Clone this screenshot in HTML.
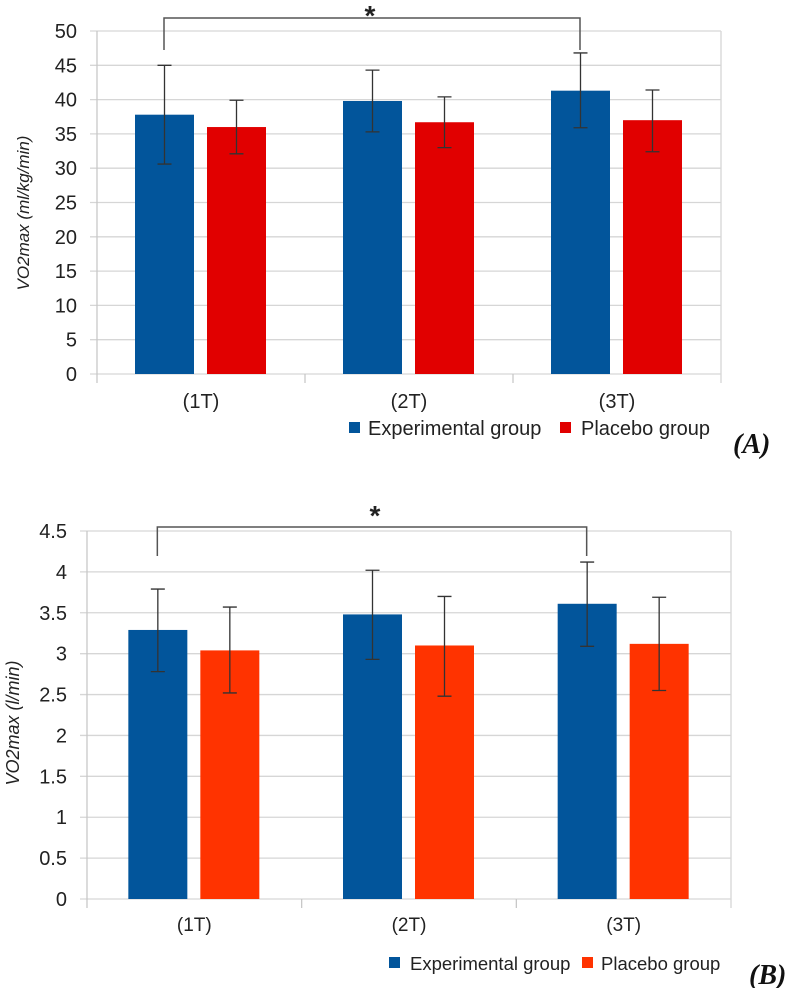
<!DOCTYPE html>
<html><head><meta charset="utf-8"><style>
html,body{margin:0;padding:0;background:#fff;width:787px;height:988px;overflow:hidden}
svg{display:block;font-family:"Liberation Sans",sans-serif}
</style></head><body>
<svg id="s" width="787" height="988"></svg>
<script>
const categories = ["(1T)","(2T)","(3T)"];
const aExp = [37.8, 39.8, 41.3];
const aExpLo = [30.6, 35.3, 35.9];
const aExpHi = [45.0, 44.3, 46.8];
const aPla = [36.0, 36.7, 37.0];
const aPlaLo = [32.1, 33.0, 32.4];
const aPlaHi = [39.9, 40.4, 41.4];
const aTicks = [0,5,10,15,20,25,30,35,40,45,50];
const bExp = [3.29, 3.48, 3.61];
const bExpLo = [2.78, 2.93, 3.09];
const bExpHi = [3.79, 4.02, 4.12];
const bPla = [3.04, 3.10, 3.12];
const bPlaLo = [2.52, 2.48, 2.55];
const bPlaHi = [3.57, 3.70, 3.69];
const bTicks = ["0","0.5","1","1.5","2","2.5","3","3.5","4","4.5"];

const svg = document.getElementById('s');
const NS = 'http://www.w3.org/2000/svg';
function el(tag, attrs, parent){
  const e = document.createElementNS(NS, tag);
  for (const k in attrs) e.setAttribute(k, attrs[k]);
  (parent||svg).appendChild(e);
  return e;
}
function chart(cfg){
  const g = el('g', {});
  
  
  const y = v => cfg.y0 - (v - 0) / cfg.max * (cfg.y0 - cfg.yTop);
  const cw = (cfg.right - cfg.left) / categories.length;
  const cx = i => cfg.left + cw * (i + 0.5);
  cfg.ticks.forEach(t => {
    const v = parseFloat(t);
    const ln = el('line', {x1: cfg.left - 7, x2: cfg.right, y1: y(v), y2: y(v), stroke: '#d6d6d6', 'stroke-width': 1.3}, g);
    
    
    const tx = el('text', {x: cfg.tickX, y: y(v) + 7, 'text-anchor': 'end', 'font-size': 20, fill: '#222'}, g);
    tx.textContent = t;
    
    
  });
  el('line', {x1: cfg.left, x2: cfg.left, y1: cfg.yTop, y2: cfg.y0 + 9, stroke: '#c8c8c8', 'stroke-width': 1.3}, g);
  el('line', {x1: cfg.right, x2: cfg.right, y1: cfg.yTop, y2: cfg.y0 + 9, stroke: '#d6d6d6', 'stroke-width': 1.3}, g);
  for (let i = 1; i < categories.length; i++) {
    el('line', {x1: cfg.left + cw * i, x2: cfg.left + cw * i, y1: cfg.y0, y2: cfg.y0 + 9, stroke: '#c8c8c8', 'stroke-width': 1.3}, g);
  }
  categories.forEach((c, i) => {
    const t = el('text', {x: cx(i), y: cfg.xLabY, 'text-anchor': 'middle', 'font-size': cfg.xFont, fill: '#222'}, g);
    t.textContent = c;
    
    
    const series = [[cfg.exp, cfg.expLo, cfg.expHi, '#02559b', -66, 'bar-experimental'], [cfg.pla, cfg.plaLo, cfg.plaHi, cfg.redCol, 6, 'bar-placebo']];
    series.forEach(s => {
      const x0 = cx(i) + s[4];
      const r = el('rect', {x: x0, y: y(s[0][i]), width: 59, height: y(0) - y(s[0][i]), fill: s[3]}, g);
      
      
      const mx = x0 + 29.5;
      const eb = el('path', {d: `M${mx} ${y(s[2][i])}V${y(s[1][i])}M${mx-7} ${y(s[2][i])}H${mx+7}M${mx-7} ${y(s[1][i])}H${mx+7}`, stroke: '#333', 'stroke-width': 1.3, fill: 'none'}, g);
      
      
    });
  });
  const br = el('path', {d: `M${cx(0)-37} ${cfg.brBot}V${cfg.brTop}H${cx(2)-37}V${cfg.brBot}`, stroke: '#555', 'stroke-width': 1.5, fill: 'none'}, g);
  
  
  const st = el('text', {x: cfg.starX, y: cfg.starY, 'text-anchor': 'middle', 'font-size': 28, 'font-weight': 'bold', fill: '#222'}, g);
  st.textContent = '*';
  
  
  const yt = el('text', {x: 0, y: 0, transform: `translate(${cfg.titleX},${cfg.titleY}) rotate(-90)`, 'text-anchor': 'middle', 'font-size': cfg.titleFont, 'font-style': 'italic', fill: '#222'}, g);
  yt.textContent = cfg.title;
  
  
  const l1 = el('rect', {x: cfg.lg[0], y: cfg.legY - 6, width: 11, height: 11, fill: '#02559b'}, g);
  
  
  const lt1 = el('text', {x: cfg.lg[1], y: cfg.legY + 7, 'font-size': cfg.legFont, fill: '#222'}, g);
  lt1.textContent = 'Experimental group';
  
  
  const l2 = el('rect', {x: cfg.lg[2], y: cfg.legY - 6, width: 11, height: 11, fill: cfg.redCol}, g);
  
  
  const lt2 = el('text', {x: cfg.lg[3], y: cfg.legY + 7, 'font-size': cfg.legFont, fill: '#222'}, g);
  lt2.textContent = 'Placebo group';
  
  
  const pl = el('text', {x: cfg.panelX, y: cfg.panelY, 'font-size': 28, 'font-weight': 'bold', 'font-style': 'italic', 'font-family': 'Liberation Serif, serif', fill: '#111'}, g);
  pl.textContent = cfg.panel;
  
  
}
chart({name:'chart-a', y0:374, yTop:31, max:50, left:97, right:721, ticks:aTicks.map(String), tickX:77,
  exp:aExp, expLo:aExpLo, expHi:aExpHi, pla:aPla, plaLo:aPlaLo, plaHi:aPlaHi, redCol:'#e10000',
  xLabY:408, xFont:20, brTop:18, brBot:50, starX:370, starY:25, title:'VO2max (ml/kg/min)', titleFont:17, titleX:29, titleY:213,
  legY:428, legFont:20, lg:[349,368,560,581], panel:'(A)', panelX:733, panelY:453});
chart({name:'chart-b', y0:899, yTop:531, max:4.5, left:87, right:731, ticks:bTicks, tickX:67,
  exp:bExp, expLo:bExpLo, expHi:bExpHi, pla:bPla, plaLo:bPlaLo, plaHi:bPlaHi, redCol:'#ff3300',
  xLabY:931, xFont:19, brTop:527, brBot:556, starX:375, starY:525, title:'VO2max  (l/min)', titleFont:18, titleX:19, titleY:723,
  legY:963, legFont:18.5, lg:[389,410,582,601], panel:'(B)', panelX:749, panelY:984});
</script>
</body></html>
